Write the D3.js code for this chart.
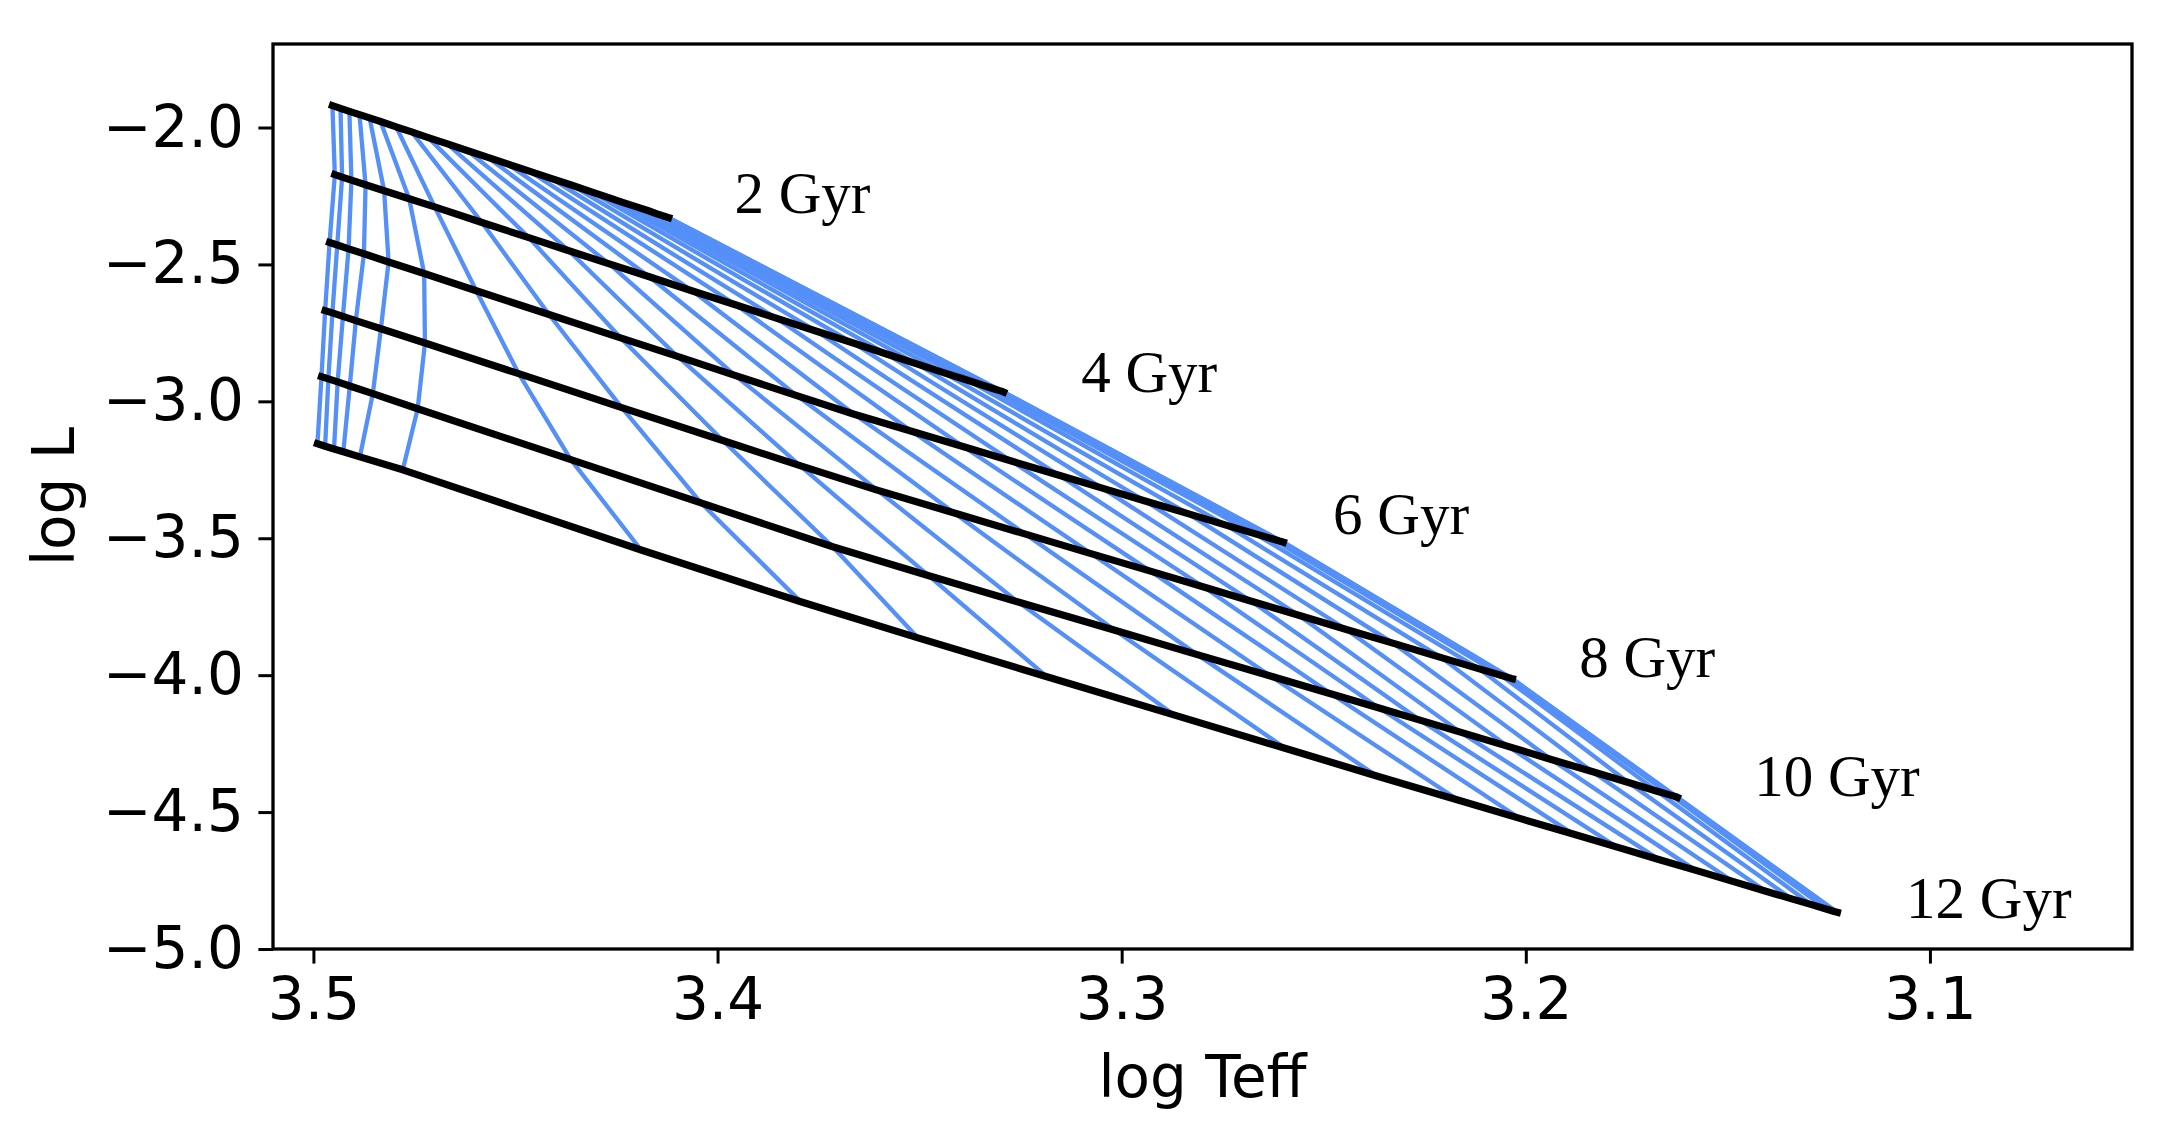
<!DOCTYPE html>
<html>
<head>
<meta charset="utf-8">
<script src="https://cdn.jsdelivr.net/npm/d3@7"></script>
<style>
  html, body { margin: 0; padding: 0; background: #fff; }
  svg { display: block; }
</style>
</head>
<body>
<svg id="chart"></svg>
<script>
// isochrone ages (Gyr)
const ages = [2, 4, 6, 8, 10, 12];

// points of each isochrone, one per mass track (highest mass first)
const teff2 = [3.4953, 3.4933, 3.4911, 3.4886, 3.4861, 3.4834, 3.4795, 3.4757, 3.4716, 3.4670, 3.4620, 3.4570, 3.4520, 3.4466, 3.4412, 3.4362, 3.4312, 3.4271, 3.4233, 3.4200, 3.4171, 3.4150, 3.4136, 3.4127, 3.4123, 3.4121];
const lum2 = [-1.920, -1.930, -1.941, -1.953, -1.965, -1.978, -1.998, -2.016, -2.037, -2.059, -2.084, -2.108, -2.133, -2.159, -2.186, -2.210, -2.235, -2.255, -2.274, -2.290, -2.304, -2.315, -2.322, -2.326, -2.328, -2.329];

const teff4 = [3.4947, 3.4929, 3.4906, 3.4871, 3.4825, 3.4763, 3.4700, 3.4583, 3.4467, 3.4368, 3.4268, 3.4169, 3.4062, 3.3954, 3.3855, 3.3755, 3.3664, 3.3582, 3.3507, 3.3441, 3.3383, 3.3342, 3.3317, 3.3302, 3.3295, 3.3292];
const lum4 = [-2.172, -2.181, -2.192, -2.209, -2.231, -2.260, -2.290, -2.347, -2.402, -2.450, -2.498, -2.545, -2.597, -2.648, -2.696, -2.744, -2.787, -2.827, -2.863, -2.895, -2.922, -2.942, -2.954, -2.961, -2.964, -2.966];

const teff6 = [3.4960, 3.4941, 3.4913, 3.4875, 3.4814, 3.4726, 3.4597, 3.4417, 3.4240, 3.4099, 3.3957, 3.3804, 3.3662, 3.3520, 3.3391, 3.3273, 3.3155, 3.3048, 3.2942, 3.2836, 3.2742, 3.2671, 3.2628, 3.2610, 3.2602, 3.2600];
const lum6 = [-2.420, -2.429, -2.443, -2.461, -2.491, -2.533, -2.596, -2.683, -2.768, -2.836, -2.905, -2.979, -3.047, -3.109, -3.166, -3.218, -3.270, -3.317, -3.364, -3.410, -3.452, -3.483, -3.502, -3.510, -3.513, -3.514];

const teff8 = [3.4971, 3.4953, 3.4927, 3.4895, 3.4833, 3.4724, 3.4492, 3.4237, 3.3987, 3.3796, 3.3605, 3.3414, 3.3238, 3.3076, 3.2929, 3.2797, 3.2679, 3.2562, 3.2444, 3.2327, 3.2209, 3.2115, 3.2062, 3.2042, 3.2036, 3.2033];
const lum8 = [-2.669, -2.677, -2.690, -2.705, -2.735, -2.787, -2.899, -3.023, -3.143, -3.235, -3.324, -3.408, -3.485, -3.556, -3.620, -3.678, -3.730, -3.781, -3.833, -3.884, -3.936, -3.977, -4.000, -4.009, -4.012, -4.013];

const teff10 = [3.4980, 3.4963, 3.4940, 3.4910, 3.4853, 3.4742, 3.4363, 3.4041, 3.3715, 3.3477, 3.3256, 3.3017, 3.2813, 3.2632, 3.2481, 3.2363, 3.2262, 3.2162, 3.2044, 3.1937, 3.1836, 3.1746, 3.1675, 3.1642, 3.1628, 3.1625];
const lum10 = [-2.910, -2.918, -2.929, -2.944, -2.972, -3.027, -3.213, -3.371, -3.531, -3.637, -3.733, -3.836, -3.925, -4.003, -4.069, -4.120, -4.164, -4.208, -4.260, -4.308, -4.352, -4.392, -4.424, -4.438, -4.444, -4.446];

const teff12 = [3.4990, 3.4971, 3.4949, 3.4926, 3.4885, 3.4779, 3.4189, 3.3794, 3.3504, 3.3185, 3.2869, 3.2594, 3.2369, 3.2166, 3.2015, 3.1883, 3.1774, 3.1669, 3.1579, 3.1488, 3.1406, 3.1342, 3.1293, 3.1255, 3.1237, 3.1229];
const lum12 = [-3.155, -3.164, -3.174, -3.184, -3.203, -3.250, -3.543, -3.732, -3.864, -4.006, -4.146, -4.268, -4.368, -4.457, -4.523, -4.580, -4.628, -4.674, -4.713, -4.753, -4.789, -4.817, -4.838, -4.855, -4.863, -4.866];

// where the age labels sit (data coords)
const labelTeff = [3.3958, 3.3100, 3.2477, 3.1868, 3.1435, 3.1059];
const labelLum = [-2.3125, -2.9667, -3.4857, -4.0084, -4.4397, -4.8853];

const xTicks = [3.5, 3.4, 3.3, 3.2, 3.1];
const yTicks = [-2.0, -2.5, -3.0, -3.5, -4.0, -4.5, -5.0];

const W = 2178, H = 1139;
const margin = { top: 44, right: 46, bottom: 190, left: 273 };
const width = W - margin.left - margin.right;
const height = H - margin.top - margin.bottom;

const teffs = [teff2, teff4, teff6, teff8, teff10, teff12];
const lums = [lum2, lum4, lum6, lum8, lum10, lum12];

const isochrones = ages.map((age, i) =>
  teffs[i].map((t, j) => ({ teff: t, lum: lums[i][j] }))
);
const tracks = d3.range(teff2.length).map((j) => isochrones.map((iso) => iso[j]));

const svg = d3.select("#chart").attr("width", W).attr("height", H);
const chartGrp = svg.append("g").attr("transform", `translate(${margin.left},${margin.top})`);

const xScale = d3.scaleLinear().domain([3.51, 3.05]).range([0, width]);
const yScale = d3.scaleLinear().domain([-5.0, -1.695]).range([height, 0]);

const line = d3
  .line()
  .x((d) => xScale(d.teff))
  .y((d) => yScale(d.lum));

chartGrp.append("defs").append("clipPath").attr("id", "clip")
  .append("rect").attr("width", width).attr("height", height);

const plot = chartGrp.append("g").attr("clip-path", "url(#clip)");

// mass tracks (blue) under the isochrones
plot
  .selectAll("path.track")
  .data(tracks)
  .join("path")
  .attr("class", "track")
  .attr("fill", "none")
  .attr("stroke", "#558ff8")
  .attr("stroke-width", 4.3)
  .attr("stroke-linejoin", "round")
  .attr("stroke-linecap", "square")
  .attr("d", line);

plot
  .selectAll("path.iso")
  .data(isochrones)
  .join("path")
  .attr("class", "iso")
  .attr("fill", "none")
  .attr("stroke", "#000")
  .attr("stroke-width", 7.2)
  .attr("stroke-linejoin", "round")
  .attr("stroke-linecap", "square")
  .attr("d", line);

// age labels
chartGrp
  .selectAll("text.age")
  .data(ages)
  .join("text")
  .attr("class", "age")
  .attr("x", (d, i) => xScale(labelTeff[i]))
  .attr("y", (d, i) => yScale(labelLum[i]))
  .attr("font-family", "'Liberation Serif', 'Times New Roman', serif")
  .attr("font-size", 59)
  .attr("fill", "#000")
  .text((d) => `${d} Gyr`);

// axes
const tickLen = 14.6;
const xAxis = d3.axisBottom(xScale).tickValues(xTicks).tickFormat(d3.format(".1f")).tickSize(tickLen).tickPadding(tickLen);
const yAxis = d3.axisLeft(yScale).tickValues(yTicks).tickFormat(d3.format(".1f")).tickSize(tickLen).tickPadding(tickLen);

const gx = chartGrp.append("g").attr("transform", `translate(0,${height})`).call(xAxis);
const gy = chartGrp.append("g").call(yAxis);

[gx, gy].forEach((g) => {
  g.select(".domain").remove();
  g.selectAll(".tick line").attr("stroke", "#000").attr("stroke-width", 3);
  g.selectAll(".tick text")
    .attr("fill", "#000")
    .attr("font-family", "'DejaVu Sans', sans-serif")
    .attr("font-size", 58);
});

chartGrp
  .append("rect")
  .attr("width", width)
  .attr("height", height)
  .attr("fill", "none")
  .attr("stroke", "#000")
  .attr("stroke-width", 3.3);

chartGrp
  .append("text")
  .attr("x", width / 2)
  .attr("y", 1097 - margin.top)
  .attr("text-anchor", "middle")
  .attr("font-family", "'DejaVu Sans', sans-serif")
  .attr("font-size", 58)
  .text("log Teff");

chartGrp
  .append("text")
  .attr("transform", `translate(${74 - margin.left},${height / 2}) rotate(-90)`)
  .attr("text-anchor", "middle")
  .attr("font-family", "'DejaVu Sans', sans-serif")
  .attr("font-size", 58)
  .text("log L");
</script>
</body>
</html>
